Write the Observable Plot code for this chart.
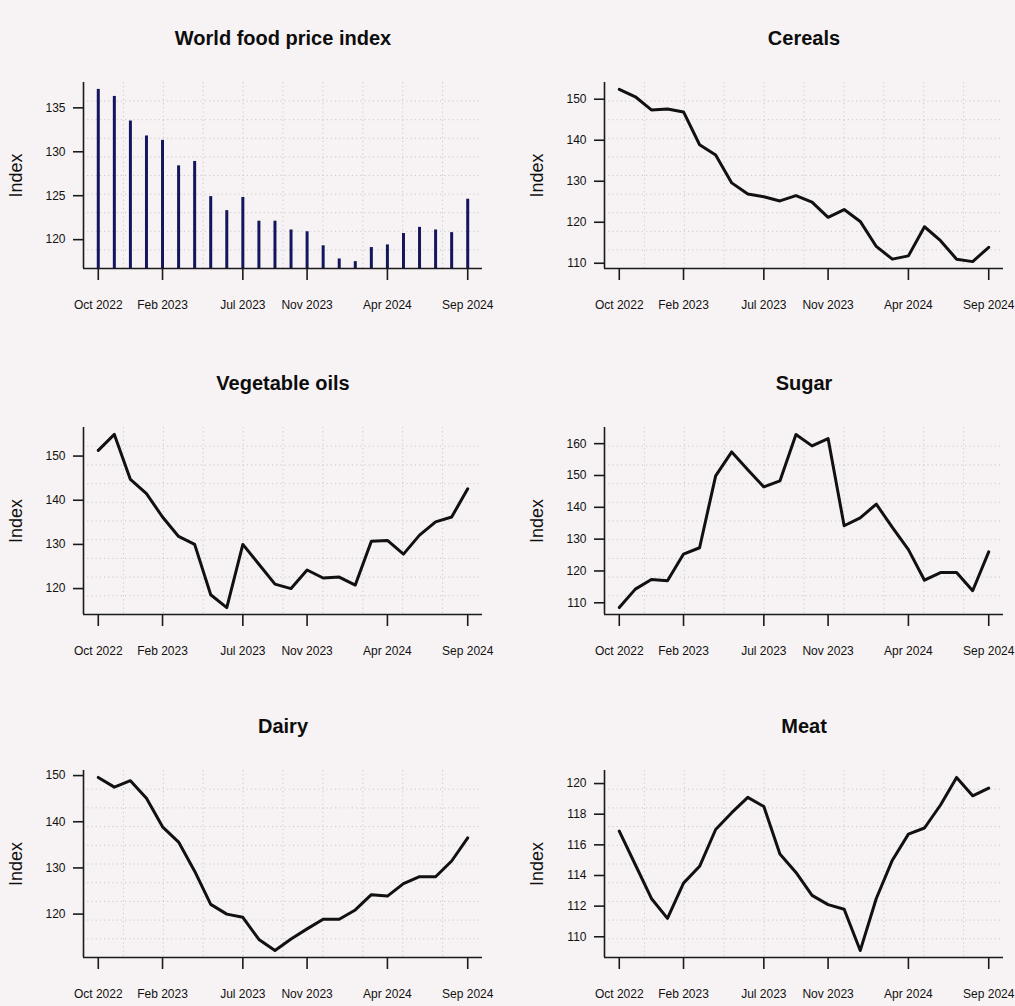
<!DOCTYPE html>
<html><head><meta charset="utf-8">
<script src="https://cdn.jsdelivr.net/npm/d3@7"></script>
<script src="https://cdn.jsdelivr.net/npm/@observablehq/plot@0.6"></script>
<style>
html,body{margin:0;padding:0;background:#f7f3f4;}
#root{position:relative;width:1015px;height:1006px;background:#f7f3f4;overflow:hidden;font-family:"Liberation Sans",Arial,Helvetica,sans-serif;}
.panel{position:absolute;}
.panel svg{overflow:visible;}
</style></head>
<body><div id="root"></div>
<script>
// Months (x positions are month indices 0..23)
const months = ["Oct 2022","Nov 2022","Dec 2022","Jan 2023","Feb 2023","Mar 2023","Apr 2023","May 2023","Jun 2023","Jul 2023","Aug 2023","Sep 2023","Oct 2023","Nov 2023","Dec 2023","Jan 2024","Feb 2024","Mar 2024","Apr 2024","May 2024","Jun 2024","Jul 2024","Aug 2024","Sep 2024"];
const xTickIndex = [0, 4, 9, 13, 18, 23];
const xTickLabels = ["Oct 2022","Feb 2023","Jul 2023","Nov 2023","Apr 2024","Sep 2024"];

// Series values
const foodPriceIndex = [137.1,136.3,133.5,131.8,131.3,128.4,128.9,124.9,123.3,124.8,122.1,122.1,121.1,120.9,119.3,117.8,117.5,119.1,119.4,120.7,121.4,121.1,120.8,124.6];
const cereals = [152.4,150.6,147.4,147.6,146.9,138.9,136.4,129.6,126.9,126.2,125.2,126.5,124.9,121.2,123.1,120.2,114.1,111.0,111.8,118.9,115.5,111.0,110.4,113.9];
const vegetableOils = [151.3,154.9,144.7,141.5,136.2,131.8,130.0,118.6,115.7,130.0,125.5,121.0,120.0,124.2,122.4,122.6,120.8,130.7,130.9,127.8,132.1,135.1,136.2,142.6];
const sugar = [108.5,114.3,117.3,116.9,125.3,127.3,149.9,157.4,151.8,146.4,148.3,162.9,159.3,161.6,134.2,136.7,141.0,133.7,126.7,117.1,119.5,119.5,113.8,126.0];
const dairy = [149.6,147.5,148.9,145.1,138.9,135.6,129.3,122.1,120.0,119.3,114.5,112.1,114.6,116.8,118.9,118.9,120.9,124.2,123.9,126.6,128.1,128.1,131.5,136.5];
const meat = [116.9,114.7,112.5,111.2,113.5,114.6,117.0,118.1,119.1,118.5,115.4,114.2,112.7,112.1,111.8,109.1,112.5,115.0,116.7,117.1,118.6,120.4,119.2,119.7];

// Tick values per panel
const ticksFood = [120,125,130,135];
const ticksCereals = [110,120,130,140,150];
const ticksOils = [120,130,140,150];
const ticksSugar = [110,120,130,140,150,160];
const ticksDairy = [120,130,140,150];
const ticksMeat = [110,112,114,116,118,120];

const panels = [
  {title:"World food price index", values:foodPriceIndex, ticks:ticksFood, type:"bars", col:0, row:0},
  {title:"Cereals", values:cereals, ticks:ticksCereals, type:"line", col:1, row:0},
  {title:"Vegetable oils", values:vegetableOils, ticks:ticksOils, type:"line", col:0, row:1},
  {title:"Sugar", values:sugar, ticks:ticksSugar, type:"line", col:1, row:1},
  {title:"Dairy", values:dairy, ticks:ticksDairy, type:"line", col:0, row:2},
  {title:"Meat", values:meat, ticks:ticksMeat, type:"line", col:1, row:2}
];

const colLeft = [0, 521];
const colWidth = [507, 494];
const colMarginRight = [25, 12];
const rowFrameTop = [82, 427, 770];
const rowFrameH = [186, 187, 187];
const MT = 60, MB = 48, ML = 83;

const root = document.getElementById("root");
const font = '"Liberation Sans", Arial, Helvetica, sans-serif';

function pad4(lo, hi) { const p = (hi - lo) * 0.04; return [lo - p, hi + p]; }
function gridPositions(dom) { const out = []; for (let k = 1; k < 10; k++) out.push(dom[0] + (dom[1] - dom[0]) * k / 10); return out; }

for (const p of panels) {
  const data = p.values.map((v, i) => ({i, v, month: months[i]}));
  const xDom = pad4(0, months.length - 1);
  const yDom = pad4(d3.min(p.values), d3.max(p.values));
  const gx = gridPositions(xDom), gy = gridPositions(yDom);
  const marks = [
    Plot.ruleX(gx, {stroke: "#cbc8c9", strokeWidth: 1, strokeDasharray: "1.2,3"}),
    Plot.ruleY(gy, {stroke: "#cbc8c9", strokeWidth: 1, strokeDasharray: "1.2,3"}),
  ];
  if (p.type === "bars") {
    marks.push(Plot.ruleX(data, {x: "i", y1: () => yDom[0], y2: "v", stroke: "#15155e", strokeWidth: 3}));
  } else {
    marks.push(Plot.line(data, {x: "i", y: "v", stroke: "#111", strokeWidth: 3, strokeLinejoin: "round", strokeLinecap: "round"}));
  }
  marks.push(
    Plot.ruleX([xDom[0]], {stroke: "#1a1a1a", strokeWidth: 1.6}),
    Plot.ruleY([yDom[0]], {stroke: "#1a1a1a", strokeWidth: 1.6}),
    Plot.axisX(xTickIndex, {tickSize: 12, tickPadding: 20, strokeWidth: 1.6, stroke: "#1a1a1a", fill: "#111", fontSize: 12,
      tickFormat: d => xTickLabels[xTickIndex.indexOf(d)], label: null}),
    Plot.axisY(p.ticks, {tickSize: 10, tickPadding: 8, strokeWidth: 1.6, stroke: "#1a1a1a", fill: "#111", fontSize: 12, label: null}),
    Plot.text(["Index"], {frameAnchor: "left", dx: -67, rotate: -90, textAnchor: "middle", lineAnchor: "middle", fontSize: 18, fill: "#111"}),
    Plot.text([p.title], {frameAnchor: "top", dy: -44, textAnchor: "middle", lineAnchor: "middle", fontSize: 20, fontWeight: "bold", fill: "#0d0d0d"})
  );
  const fh = rowFrameH[p.row];
  const chart = Plot.plot({
    width: colWidth[p.col],
    height: fh + MT + MB,
    marginLeft: ML,
    marginRight: colMarginRight[p.col],
    marginTop: MT,
    marginBottom: MB,
    x: {domain: xDom, label: null},
    y: {domain: yDom, label: null},
    style: {background: "transparent", fontFamily: font, fontSize: "12px", color: "#111", overflow: "visible"},
    marks
  });
  const wrap = document.createElement("div");
  wrap.className = "panel";
  wrap.style.left = colLeft[p.col] + "px";
  wrap.style.top = (rowFrameTop[p.row] - MT) + "px";
  wrap.appendChild(chart);
  root.appendChild(wrap);
}
</script>
</body></html>
